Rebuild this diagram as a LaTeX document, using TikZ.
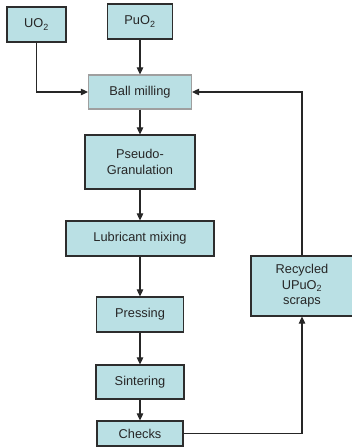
\documentclass[tikz,border=0pt]{standalone}
\usepackage{fontspec}
\setmainfont{Liberation Sans}
\usetikzlibrary{arrows.meta}

\definecolor{boxfill}{RGB}{186,224,228}
\definecolor{boxline}{RGB}{45,45,45}

\begin{document}
\begin{tikzpicture}[>={Stealth[length=7pt,width=6.5pt,inset=0pt]}, x=1pt, y=-1pt,
    stage/.style={draw=boxline, fill=boxfill, line width=1.2pt, inner sep=0pt,
        align=center, text=black!85, font=\fontsize{12.8}{15.5}\selectfont},
    flow/.style={->, line width=1.1pt, draw=black!85},
]
    \useasboundingbox (0,0) rectangle (352,447);
    % inputs
    \node[stage, minimum width=59pt, minimum height=35pt] (uo2) at (36.5,24.5) {UO\textsubscript{2}};
    \node[stage, minimum width=65pt, minimum height=35pt] (puo2) at (140,21.5) {PuO\textsubscript{2}};
    % main line
    \node[stage, draw=gray!75, minimum width=103pt, minimum height=34pt] (ball) at (140,92) {Ball milling};
    \node[stage, minimum width=110pt, minimum height=54pt] (granul) at (140,162) {Pseudo-\\Granulation};
    \node[stage, minimum width=148pt, minimum height=35pt] (lubmix) at (140,238.5) {Lubricant mixing};
    \node[stage, minimum width=87pt, minimum height=35pt] (press) at (140,314.5) {Pressing};
    \node[stage, minimum width=88pt, minimum height=34pt] (sinter) at (140,382) {Sintering};
    \node[stage, minimum width=86pt, minimum height=25pt] (checks) at (140,433.5) {Checks};
    % recycling
    \node[stage, minimum width=102pt, minimum height=60pt] (recycl) at (302,286) {Recycled\\UPuO\textsubscript{2}\\scraps};

    \draw[flow] (uo2.south) |- (ball.west);
    \draw[flow] (puo2) -- (ball);
    \draw[flow] (ball) -- (granul);
    \draw[flow] (granul) -- (lubmix);
    \draw[flow] (lubmix) -- (press);
    \draw[flow] (press) -- (sinter);
    \draw[flow] (sinter) -- (checks);
    \draw[flow] (checks.east) -| (recycl.south);
    \draw[flow] (recycl.north) |- (ball.east);
\end{tikzpicture}
\end{document}
